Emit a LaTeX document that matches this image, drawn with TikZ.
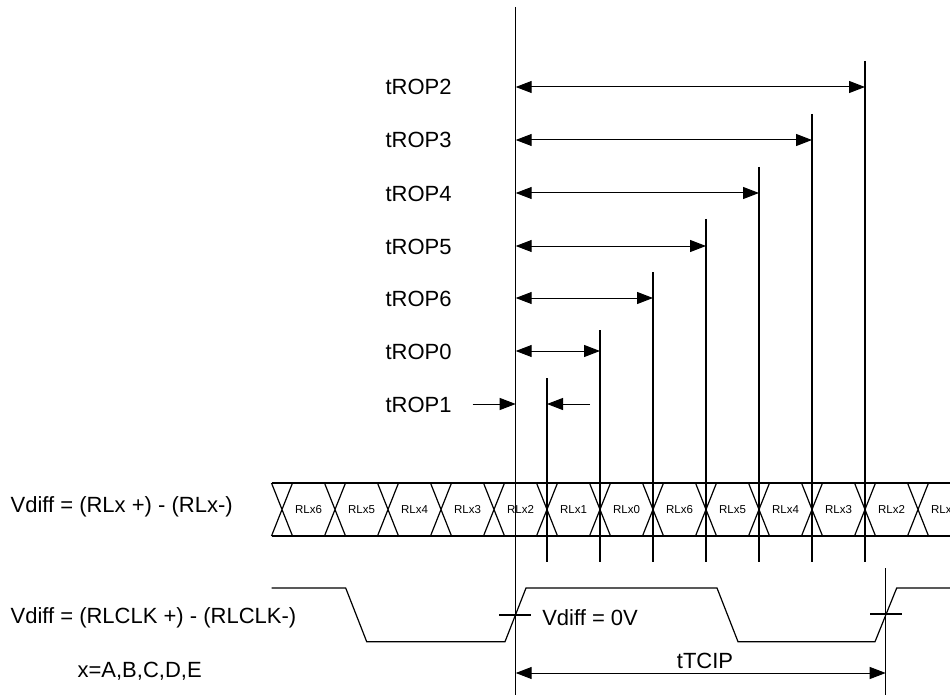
\documentclass[tikz,border=0pt]{standalone}
\usepackage{fontspec}
\setmainfont{Liberation Sans}
\usetikzlibrary{arrows.meta}

\begin{document}
\begin{tikzpicture}[x=1pt,y=-1pt,line width=1.2pt,>={Triangle[length=16pt,width=12pt]},
   every node/.style={inner sep=0pt,font=\fontsize{22}{26}\selectfont}]
   \tikzstyle{lbl}=[anchor=base west]
   \tikzstyle{bit}=[anchor=base,font=\fontsize{11.5}{13}\selectfont]
   \tikzstyle{dim}=[<->,line width=1pt]
   \useasboundingbox (0,0) rectangle (950,695);
   \clip (0,0) rectangle (950,695);

   % reference line at t=0
   \coordinate (t0) at (515.7,7);
   \coordinate (tend) at (515.7,695);
   \draw (t0) -- (tend);
   \coordinate (busbot) at (0,562);

   % data lanes
   \draw (272,483) -- (950,483) (272,536) -- (950,536);
   \foreach \n [count=\k from 0] in {6,5,4,3,2,1,0,6,5,4,3,2,1} {
      \pgfmathsetmacro\cx{282+53*\k}
      \draw (\cx-10.5,483) -- (\cx+10.5,536) (\cx+10.5,483) -- (\cx-10.5,536);
      \node[bit] (bit\k) at (\cx+26.5,513.3) {RLx\n};
   }

   % strobe lines
   \foreach \k/\top in {5/378,6/330,7/272,8/219,9/167,10/114,11/61} {
      \coordinate (m\k) at (282+53*\k,\top);
      \draw (m\k) -- (m\k |- busbot);
   }

   \foreach \n/\k/\y in {2/11/87,3/10/140,4/9/193,5/8/246,6/7/298,0/6/351} {
      \node[lbl] (rop\n) at (385,\y+8) {tROP\n};
      \coordinate (a\n) at (515.7,\y);
      \path (a\n) edge[dim] (m\k |- a\n);
   }
   \node[lbl] (rop1) at (385,412) {tROP1};
   \coordinate (p1l) at (472.7,404);
   \coordinate (p1r) at (590,404);
   \path
     (p1l)  edge[->,line width=1pt]  (t0 |- p1l)
     (p1r)  edge[->,line width=1pt]  (m5 |- p1r);

   % clock
   \draw (271.7,588) -- (345.7,588) -- (366.7,641.7) -- (505,641.7) -- (526,588)
      -- (717,588) -- (738,641.7) -- (875,641.7) -- (896.7,588) -- (950,588);
   \draw (499,615) -- (531,615);
   \draw (870,614) -- (902,614);
   \coordinate (tc) at (885.7,568);
   \coordinate (tcend) at (885.7,695);
   \draw (tc) -- (tcend);
   \coordinate (c0) at (515.7,673);
   \path (c0) edge[dim] (tc |- c0);
   \node[anchor=base] (tcip) at (705,668) {tTCIP};

   % signal names
   \node[lbl] (vdata) at (10,512) {Vdiff = (RLx +) - (RLx-)};
   \node[lbl] (vclk) at (10,623) {Vdiff = (RLCLK +) - (RLCLK-)};
   \node[lbl] (xlist) at (77,677) {x=A,B,C,D,E};
   \node[lbl] (vzero) at (541.7,625) {Vdiff = 0V};
\end{tikzpicture}
\end{document}
